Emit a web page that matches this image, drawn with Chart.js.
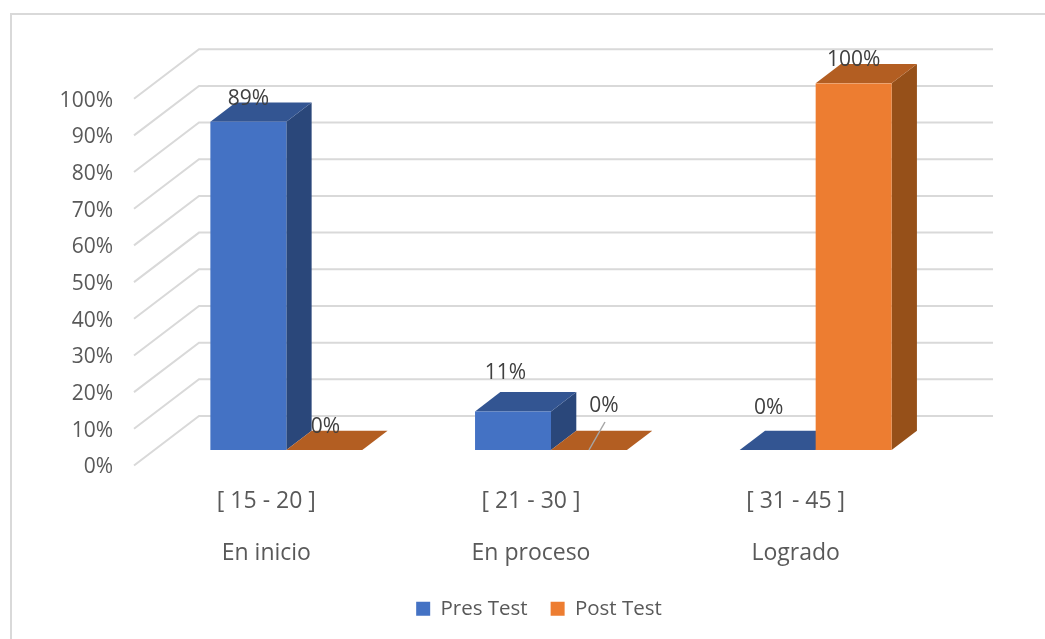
<!DOCTYPE html>
<html lang="es">
<head>
<meta charset="utf-8">
<title>Pres Test / Post Test</title>
<script src="https://cdn.jsdelivr.net/npm/chart.js@4/dist/chart.umd.js"></script>
<style>
  html, body { margin: 0; padding: 0; background: #fff; }
  .frame { position: absolute; left: 10px; top: 13px; right: 0; bottom: 0; border-left: 2px solid #d9d9d9; border-top: 2px solid #d9d9d9; }
  .wrap { position: absolute; left: 0; top: 0; width: 1045px; height: 639px; }
</style>
</head>
<body>
<div class="frame"></div>
<div class="wrap"><canvas id="chart"></canvas></div>
<script>
// values, in percent
const ranges = ["[ 15 - 20 ]", "[ 21 - 30 ]", "[ 31 - 45 ]"];
const levels = ["En inicio", "En proceso", "Logrado"];
const presTest = [89.47, 10.53, 0];
const postTest = [0, 0, 100];
const yTicks = [0, 10, 20, 30, 40, 50, 60, 70, 80, 90, 100];

const textColor = "#595959";
const labelColor = "#404040";
const grid = "#d9d9d9";
const font = "'Open Sans', sans-serif";

// fake 3D: wall depth, bar inset from the wall plane, bar depth
// lift: the tick text sits a little below its gridline start
const lift = -2;
const wall = { dx: 65, dy: -49.5 };
const inset = { dx: 20, dy: -15.5 + lift };
const depth = { dx: 25.3, dy: -19.3 };

const shades = [
  { top: "#335592", side: "#2a477a" },
  { top: "#b35e22", side: "#965019" },
];

// data label offsets from the bar's top centre: [dataset][category]
const labelOffset = [
  [[0, -23], [-7.5, -38], [-9, -42]],
  [[1, -22.5], [15, -44], [0, -23]],
];

function quad(ctx, pts, color) {
  ctx.fillStyle = color;
  ctx.beginPath();
  pts.forEach((p, i) => (i ? ctx.lineTo(p[0], p[1]) : ctx.moveTo(p[0], p[1])));
  ctx.closePath();
  ctx.fill();
}

const walls = {
  id: "walls",
  afterLayout(chart) {
    // legend sits centred under the whole picture, not the front plane
    chart.legend.left += 75;
    chart.legend.right += 75;
  },
  beforeDatasetsDraw(chart) {
    const { ctx, chartArea, scales } = chart;
    ctx.save();
    ctx.strokeStyle = grid;
    ctx.lineWidth = 2;
    yTicks.forEach((v) => {
      const y = scales.y.getPixelForValue(v) + lift;
      ctx.beginPath();
      ctx.moveTo(chartArea.left, y);
      ctx.lineTo(chartArea.left + wall.dx, y + wall.dy);
      ctx.lineTo(chartArea.right + wall.dx, y + wall.dy);
      ctx.stroke();
    });
    ctx.restore();
  },
};

const bars3d = {
  id: "bars3d",
  beforeDatasetsDraw(chart) {
    const { ctx } = chart;
    ctx.save();
    ctx.translate(inset.dx, inset.dy);
    chart.data.datasets.forEach((ds, d) => {
      chart.getDatasetMeta(d).data.forEach((bar) => {
        const l = bar.x - bar.width / 2;
        const r = bar.x + bar.width / 2;
        const t = bar.y;
        const b = bar.base;
        if (b - t > 0.5) {
          quad(ctx, [[r, t], [r + depth.dx, t + depth.dy], [r + depth.dx, b + depth.dy], [r, b]], shades[d].side);
        }
        quad(ctx, [[l, t], [l + depth.dx, t + depth.dy], [r + depth.dx, t + depth.dy], [r, t]], shades[d].top);
      });
    });
    // the library draws the front faces inside this same shift
    // restored in afterDatasetsDraw
  },
  afterDatasetsDraw(chart) {
    const { ctx } = chart;
    ctx.restore();
    ctx.save();
    ctx.font = "21px " + font;
    ctx.fillStyle = labelColor;
    ctx.textAlign = "center";
    ctx.textBaseline = "middle";
    chart.data.datasets.forEach((ds, d) => {
      chart.getDatasetMeta(d).data.forEach((bar, i) => {
        const off = labelOffset[d][i];
        const x = bar.x + inset.dx;
        const y = bar.y + inset.dy;
        ctx.fillText(Math.round(ds.data[i]) + "%", x + off[0], y + off[1]);
        if (d === 1 && i === 1) {
          // leader line of the moved label
          ctx.strokeStyle = "#a6a6a6";
          ctx.lineWidth = 1.5;
          ctx.beginPath();
          ctx.moveTo(x + off[0] + 1, y + off[1] + 16);
          ctx.lineTo(x, y);
          ctx.stroke();
        }
      });
    });
    ctx.restore();
  },
};

new Chart(document.getElementById("chart"), {
  type: "bar",
  data: {
    labels: ranges.map((r, i) => [r, levels[i]]),
    datasets: [
      { label: "Pres Test", data: presTest, backgroundColor: "#4472c4" },
      { label: "Post Test", data: postTest, backgroundColor: "#ed7d31" },
    ],
  },
  options: {
    responsive: true,
    maintainAspectRatio: false,
    animation: false,
    layout: { padding: { top: 100.7, right: 117, bottom: 10, left: 0 } },
    datasets: { bar: { categoryPercentage: 0.574, barPercentage: 1 } },
    plugins: {
      legend: {
        position: "bottom",
        labels: { color: textColor, boxWidth: 14, boxHeight: 14, padding: 23, font: { family: font, size: 20.5 } },
      },
      tooltip: { enabled: false },
    },
    scales: {
      x: {
        grid: { display: false },
        border: { display: false },
        afterFit(s) { s.height = 108; },
        ticks: {
          color: textColor,
          padding: 0,
          maxRotation: 0,
          autoSkip: false,
          font: { family: font, size: 23, lineHeight: 2.26 },
        },
      },
      y: {
        min: 0,
        max: 100,
        grid: { display: false },
        border: { display: false },
        afterFit(s) { s.width = 134; },
        afterBuildTicks(s) { s.ticks = yTicks.map((value) => ({ value })); },
        ticks: {
          color: textColor,
          padding: 13,
          font: { family: font, size: 21 },
          callback: (v) => v + "%",
        },
      },
    },
  },
  plugins: [walls, bars3d],
});
</script>
</body>
</html>
